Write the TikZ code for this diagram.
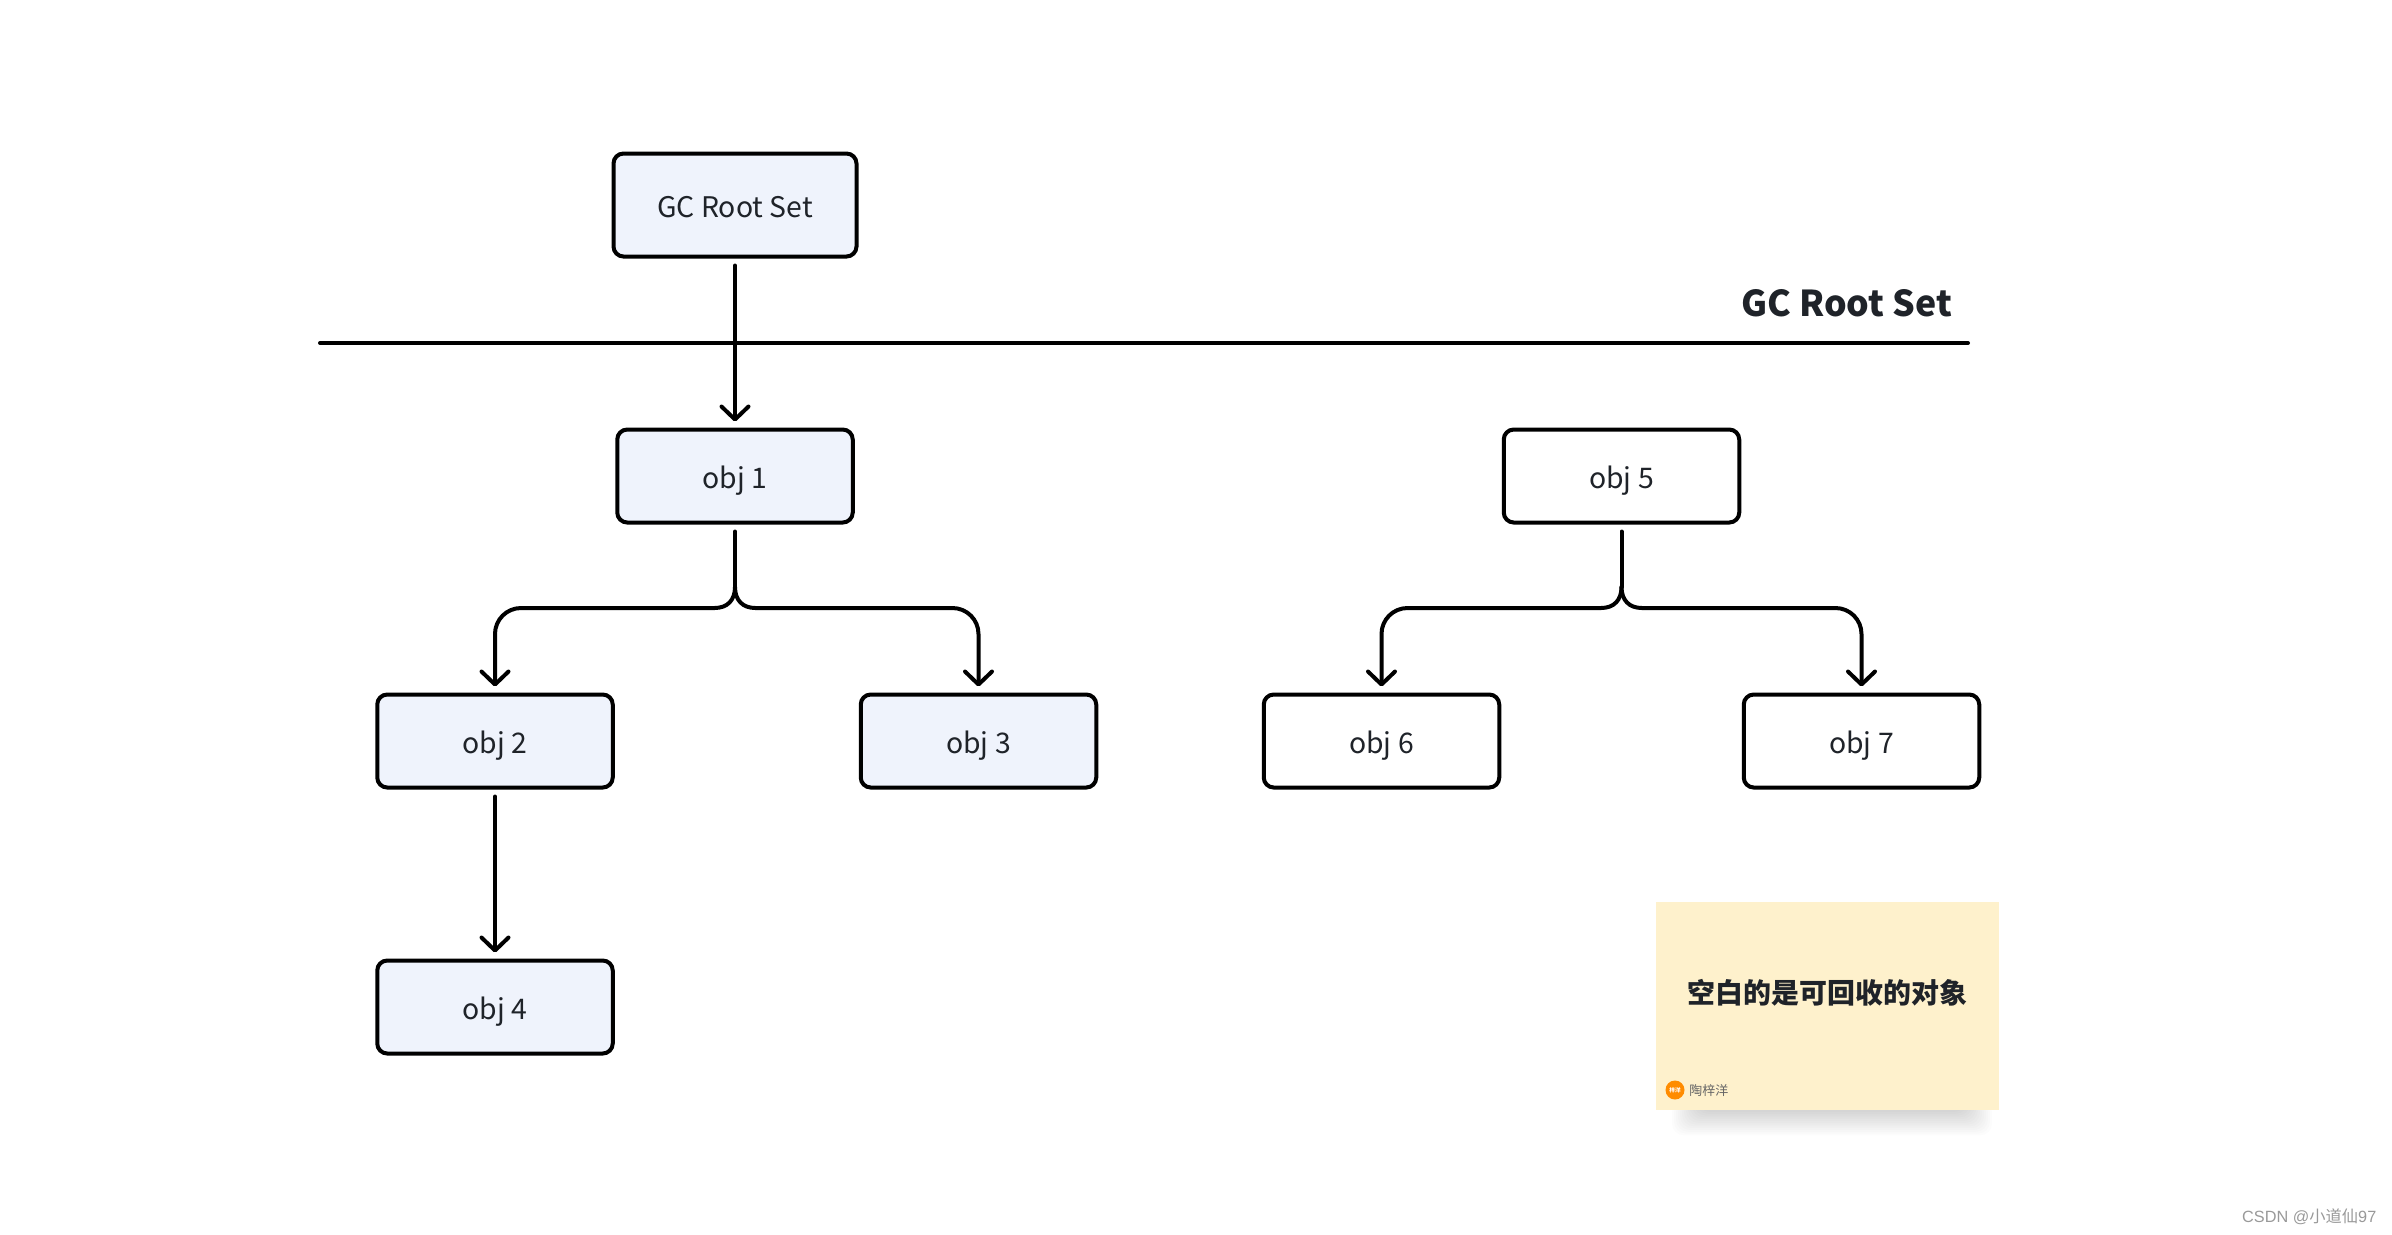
\documentclass[tikz,border=0pt]{standalone}
\usepackage{fontspec}
\setmainfont{Noto Sans CJK SC}
\newfontfamily\wmfont{Liberation Sans}
\newfontfamily\wmcjk{Noto Sans CJK SC}
\usetikzlibrary{positioning}
\usetikzlibrary{arrows.meta}
\definecolor{inkc}{HTML}{1F2329}
\definecolor{boxc}{HTML}{EFF3FC}
\definecolor{notec}{HTML}{FEF1CC}
\tikzset{
    objnode/.style = {rectangle, draw=black, line width=.04cm, rounded corners=.1cm, align=center, text=inkc, font=\fontsize{8.07pt}{10pt}\selectfont, text height=.24cm, text depth=0pt, minimum width=2.355cm, minimum height=.93cm, inner sep=0pt},
    objnodef/.style = {objnode, fill=boxc},
    rootnode/.style = {objnodef, minimum width=2.43cm, minimum height=1.03cm},
    edgen/.style = {-{Straight Barb[length=.13cm,width=.27cm,round]}, line width=.04cm, line cap=round, black, shorten >=.06cm},
    edges/.style = {line width=.04cm, line cap=round, black, shorten <=.07cm},
    edgec/.style = {line width=.04cm, line cap=round, black},
    titlenode/.style = {text=inkc, inner sep=0pt, font=\fontsize{10.15pt}{13pt}\selectfont\bfseries},
    notebox/.style = {rectangle, fill=notec, inner sep=0pt, minimum width=3.43cm, minimum height=2.08cm},
    notetext/.style = {text=inkc, inner sep=0pt, font=\fontsize{7.95pt}{10pt}\selectfont\bfseries},
    signtext/.style = {text=black!60, inner sep=0pt, font=\fontsize{3.7pt}{5pt}\selectfont},
    signdot/.style = {circle, fill=orange!90!yellow, inner sep=0pt, minimum size=.19cm, text=white, font=\fontsize{1.6pt}{2pt}\selectfont\bfseries},
    markdown/.style = {text=black!40, inner sep=0pt, font=\fontsize{4.63pt}{6pt}\selectfont}
}

\begin{document}
\begin{tikzpicture}
\useasboundingbox (0,0) rectangle (23.92,-12.34);

\node[rootnode] at (7.35,-2.05) (root) {GC Root Set};
\node[titlenode] at (18.465,-3.03) (title) {GC Root Set};
\coordinate (divl) at (3.2,-3.43);
\coordinate (divr) at (19.68,-3.43);
\draw[edgec] (divl) -- (divr);
%
\node[objnodef] at (7.35,-4.76) (obj1) {obj 1};
\node[objnodef] at (4.95,-7.41) (obj2) {obj 2};
\node[objnodef] at (9.785,-7.41) (obj3) {obj 3};
\node[objnodef] at (4.95,-10.07) (obj4) {obj 4};
\node[objnode] at (16.215,-4.76) (obj5) {obj 5};
\node[objnode] at (13.815,-7.41) (obj6) {obj 6};
\node[objnode] at (18.615,-7.41) (obj7) {obj 7};
%
\coordinate (fork1) at (7.35,-5.87);
\coordinate (fork5) at (16.215,-5.87);
\draw[edgen,shorten <=.07cm] (root) -- (obj1);
\draw[edgen,shorten <=.07cm] (obj2) -- (obj4);
\draw[edges] (obj1) -- (fork1);
\draw[edges] (obj5) -- (fork5);
\draw[edgen] (fork1) .. controls (7.35,-6.0) and (7.275,-6.08) .. (7.145,-6.08) [rounded corners=.26cm] -| (obj2);
\draw[edgen] (fork1) .. controls (7.35,-6.0) and (7.425,-6.08) .. (7.555,-6.08) [rounded corners=.26cm] -| (obj3);
\draw[edgen] (fork5) .. controls (16.215,-6.0) and (16.14,-6.08) .. (16.01,-6.08) [rounded corners=.26cm] -| (obj6);
\draw[edgen] (fork5) .. controls (16.215,-6.0) and (16.29,-6.08) .. (16.42,-6.08) [rounded corners=.26cm] -| (obj7);
% soft shadow under the note
\foreach \i in {0,...,13}
  \fill[black,opacity=.012,rounded corners=.12cm] (16.98-.02*\i,-11.0) rectangle (19.66+.02*\i,-11.12-.018*\i);
\node[notebox] at (18.275,-10.06) (note) {};
\node[notetext] at (18.275,-9.93) (notet) {空白的是可回收的对象};
\node[signdot] at (16.75,-10.9) (sign) {梓洋};
\node[signtext,right=.035cm of sign,yshift=-.01cm] (signt) {陶梓洋};
\node[markdown,anchor=east] at (23.77,-12.17) (wm) {\wmfont CSDN @\wmcjk 小道仙\wmfont 97};

\end{tikzpicture}
\end{document}
